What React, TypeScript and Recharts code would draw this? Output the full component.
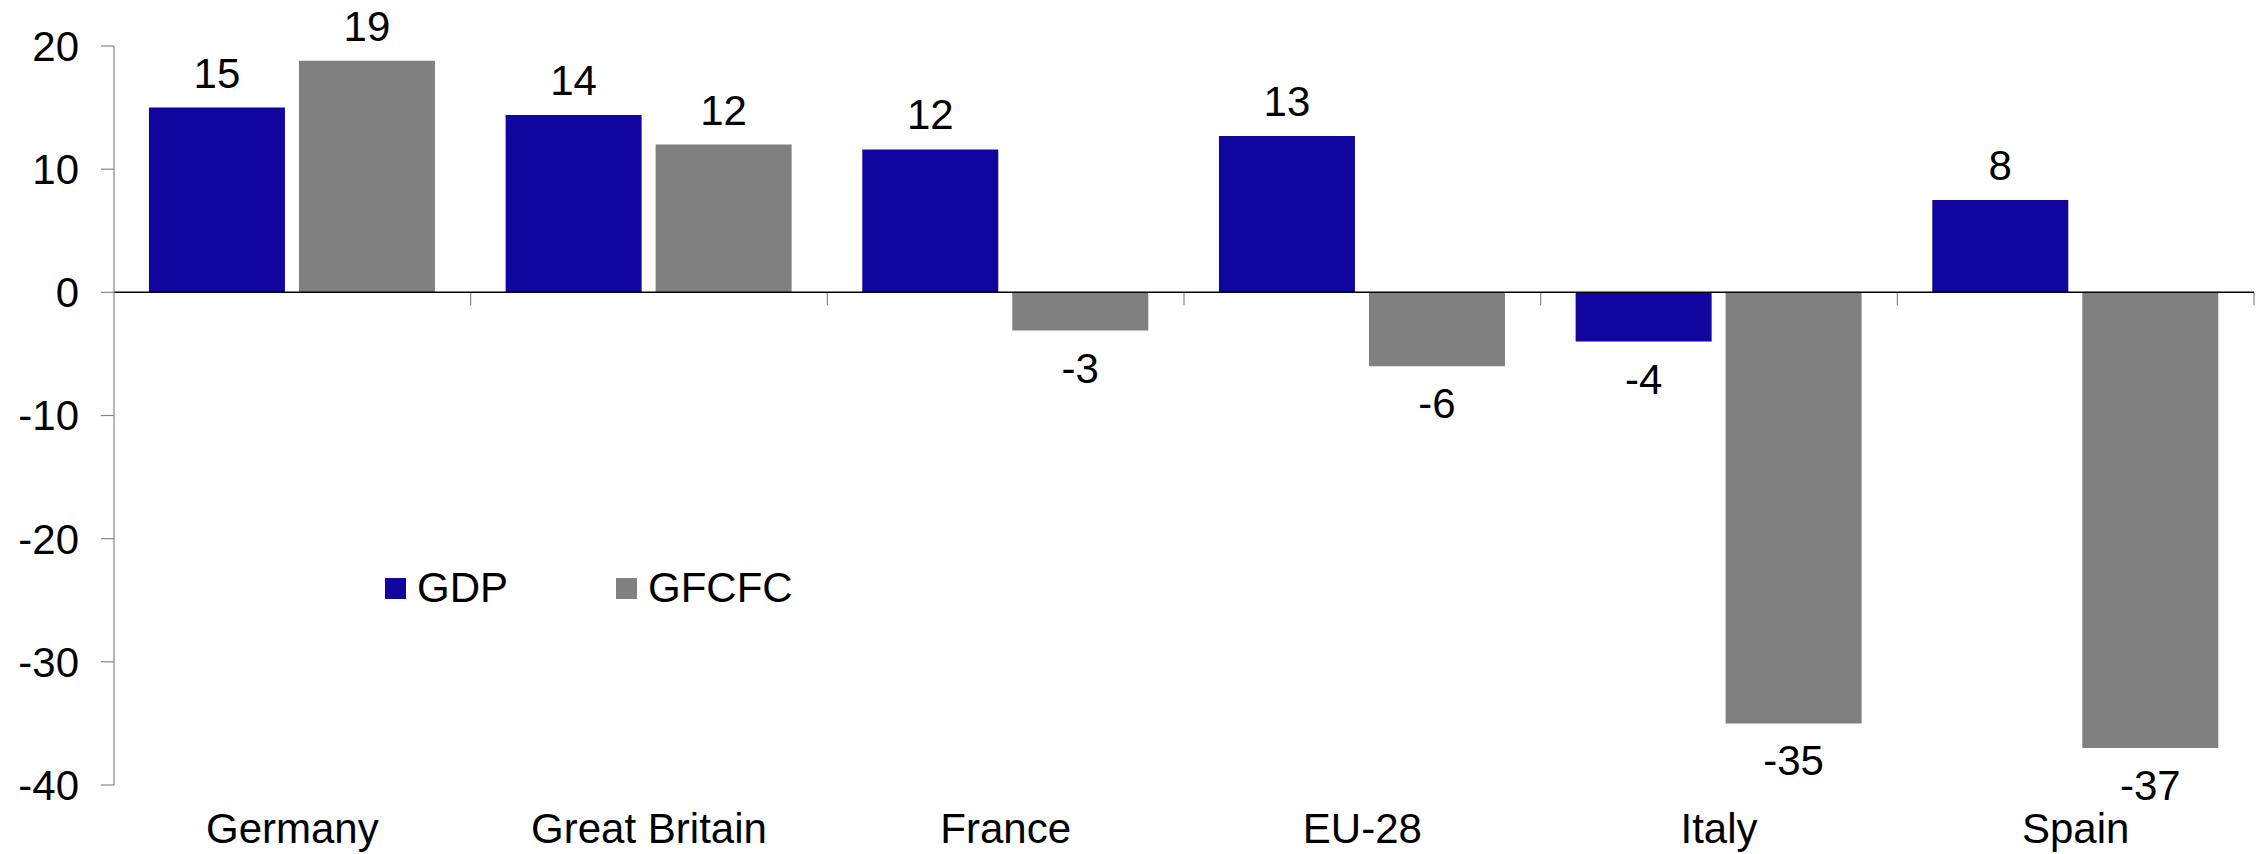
import { BarChart, Bar, XAxis, YAxis, ReferenceLine, LabelList, Legend } from 'recharts';

const countries = ['Germany', 'Great Britain', 'France', 'EU-28', 'Italy', 'Spain'];
const gdp = [15.0, 14.4, 11.6, 12.7, -4.0, 7.5];
const gfcfc = [18.8, 12.0, -3.1, -6.0, -35.0, -37.0];
const yTicks = [-40, -30, -20, -10, 0, 10, 20];

const data = countries.map((country, i) => ({ country, GDP: gdp[i], GFCFC: gfcfc[i] }));

const FONT = 'Arial, "Liberation Sans", sans-serif';
const FONT_SIZE = 42;
const AXIS_GREY = '#868686';

// value label: above positive bars, below negative ones
const ValueLabel = (props: any) => {
  const { x, y, width, height, value } = props;
  const top = Math.min(y, y + height);
  const bottom = Math.max(y, y + height);
  const cx = x + width / 2;
  const ty = value >= 0 ? top - 20 : bottom + 52;
  return (
    <text x={cx} y={ty} textAnchor="middle" fill="#000" fontSize={FONT_SIZE} fontFamily={FONT}>
      {Math.round(value)}
    </text>
  );
};

const CountryTick = (props: any) => {
  const { x, y, payload } = props;
  return (
    <text x={x} y={y + 58} textAnchor="middle" fill="#000" fontSize={FONT_SIZE} fontFamily={FONT}>
      {payload.value}
    </text>
  );
};

// zero line with small marks between the categories
const ZeroAxis = (props: any) => {
  const { x1, x2, y1 } = props;
  const band = (x2 - x1) / countries.length;
  return (
    <g>
      {countries.map((_, i) => {
        const bx = x1 + band * (i + 1);
        return <line key={i} x1={bx} x2={bx} y1={y1} y2={y1 + 13} stroke={AXIS_GREY} strokeWidth={1.2} />;
      })}
      <line x1={x1} x2={x2} y1={y1} y2={y1} stroke="#000" strokeWidth={1.5} />
    </g>
  );
};

const LegendContent = (props: any) => {
  const { payload } = props;
  return (
    <div style={{ display: 'flex', alignItems: 'center', fontFamily: FONT, fontSize: FONT_SIZE, lineHeight: '46px' }}>
      {payload.map((entry: any) => (
        <div key={entry.value} style={{ display: 'flex', alignItems: 'center', width: 231 }}>
          <span style={{ display: 'inline-block', width: 21, height: 21, background: entry.color, marginRight: 11 }} />
          <span style={{ color: '#000' }}>{entry.value}</span>
        </div>
      ))}
    </div>
  );
};

export default function App() {
  return (
    <div style={{ position: 'absolute', left: 0, top: 0, background: '#fff' }}>
      <BarChart
        width={2267}
        height={854}
        data={data}
        margin={{ top: 46, right: 13, bottom: 0, left: 0 }}
        barGap={14}
        barCategoryGap="9.8%"
      >
        <XAxis
          dataKey="country"
          axisLine={false}
          tickLine={false}
          tickSize={0}
          tickMargin={0}
          height={69}
          interval={0}
          tick={<CountryTick />}
        />
        <YAxis
          domain={[-40, 20]}
          ticks={yTicks}
          width={114}
          tickSize={13}
          tickMargin={22}
          axisLine={{ stroke: AXIS_GREY, strokeWidth: 1.2 }}
          tickLine={{ stroke: AXIS_GREY, strokeWidth: 1.2 }}
          tick={{ fill: '#000', fontSize: FONT_SIZE, fontFamily: FONT }}
        />
        <Legend
          layout="vertical"
          align="center"
          verticalAlign="middle"
          wrapperStyle={{ left: 385, top: 565, width: 'auto' }}
          content={<LegendContent />}
        />
        <Bar dataKey="GDP" fill="#10069F" isAnimationActive={false}>
          <LabelList dataKey="GDP" content={<ValueLabel />} />
        </Bar>
        <Bar dataKey="GFCFC" fill="#808080" isAnimationActive={false}>
          <LabelList dataKey="GFCFC" content={<ValueLabel />} />
        </Bar>
        <ReferenceLine y={0} shape={<ZeroAxis />} />
      </BarChart>
    </div>
  );
}
